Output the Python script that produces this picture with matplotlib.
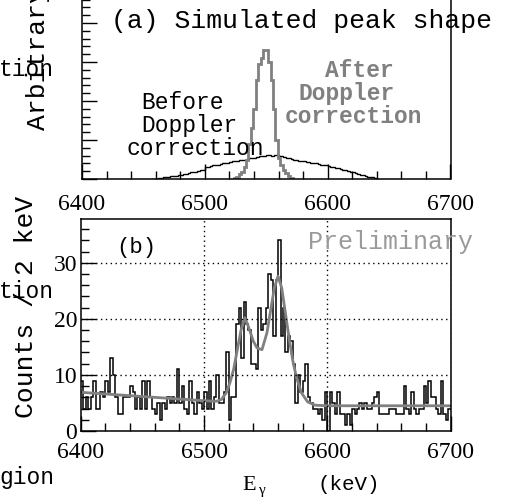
import numpy as np
import matplotlib
matplotlib.use("Agg")
import matplotlib.pyplot as plt
from matplotlib.ticker import MultipleLocator

# ---- data ----
# (a) simulated peak shape, arbitrary units, 2 keV bins
before_start = 6456
before_vals = [0.00, 0.01, 0.01, 0.02, 0.03, 0.04, 0.05, 0.05, 0.07, 0.07,
               0.08, 0.10, 0.11, 0.12, 0.12, 0.15, 0.17, 0.17, 0.19, 0.21,
               0.24, 0.24, 0.32, 0.31, 0.33, 0.35, 0.36, 0.37, 0.38, 0.40,
               0.42, 0.41, 0.44, 0.45, 0.46, 0.46, 0.48, 0.49, 0.50, 0.51,
               0.53, 0.54, 0.55, 0.56, 0.58, 0.59, 0.60, 0.61, 0.62, 0.60,
               0.62, 0.61, 0.59, 0.58, 0.57, 0.55, 0.53, 0.51, 0.50, 0.49,
               0.47, 0.46, 0.45, 0.44, 0.43, 0.42, 0.41, 0.40, 0.38, 0.37,
               0.36, 0.35, 0.33, 0.31, 0.30, 0.28, 0.27, 0.25, 0.24, 0.22,
               0.20, 0.18, 0.17, 0.15, 0.13, 0.11, 0.10, 0.08, 0.06, 0.05,
               0.04, 0.02, 0.01]
after_start = 6523.5
after_vals = [0.03, 0.06, 0.12, 0.19, 0.30, 0.50, 0.90, 1.30, 1.80, 2.55,
              2.95, 3.10, 3.32, 3.32, 3.00, 2.55, 1.80, 1.00, 0.55, 0.35,
              0.23, 0.15, 0.08, 0.03]

# (b) measured spectrum, counts per 2 keV from 6400 to 6700
counts = [9, 4, 6, 4, 6, 9, 4, 4, 7, 6,
          9, 7, 13, 10, 6, 3, 3, 6, 6, 6,
          8, 7, 4, 6, 4, 9, 4, 9, 6, 4,
          3, 5, 2, 5, 4, 6, 5, 6, 5, 11,
          5, 8, 4, 3, 9, 5, 3, 7, 5, 4,
          7, 4, 9, 4, 6, 10, 5, 5, 7, 14,
          2, 6, 6, 19, 22, 13, 23, 19, 18, 12,
          12, 11, 22, 18, 19, 22, 28, 27, 17, 27,
          34, 17, 22, 14, 17, 16, 12, 5, 10, 7,
          9, 12, 6, 5, 4, 4, 3, 4, 2, 7,
          0, 7, 5, 3, 7, 3, 3, 1, 3, 1,
          4, 3, 4, 5, 4, 5, 4, 4, 5, 6,
          7, 3, 3, 3, 3, 4, 4, 4, 3, 3,
          3, 8, 4, 3, 7, 4, 3, 4, 4, 8,
          5, 9, 6, 6, 4, 3, 9, 3, 2, 4]
bin_width = 2

# fitted curve
fit_e = [6400, 6420, 6440, 6460, 6480, 6500, 6510, 6514, 6518, 6521,
         6524, 6527, 6530, 6533, 6536, 6540, 6543, 6547, 6551, 6554,
         6557, 6560, 6563, 6566, 6569, 6572, 6575, 6579, 6584, 6590,
         6600, 6650, 6700]
fit_c = [6.9, 6.6, 6.3, 6.0, 5.7, 5.4, 5.3, 5.6, 6.8, 8.6,
         11.0, 14.5, 18.0, 20.2, 18.6, 16.0, 14.8, 14.5, 17.5, 21.5,
         25.5, 27.6, 25.5, 21.0, 16.5, 12.5, 9.5, 6.8, 5.2, 4.6,
         4.5, 4.5, 4.5]

xticks = [6400, 6500, 6600, 6700]

# ---- figure ----
W, H = 511, 501
mono = "Liberation Mono"
serif = "Liberation Serif"
grey = "#808080"


def fx(x):
    return x / W


def fy(y):
    return 1 - y / H


fig = plt.figure(figsize=(W / 100, H / 100), dpi=100)

ax1 = fig.add_axes([fx(82), fy(179), (450.5 - 82) / W, 212 / H])
ax2 = fig.add_axes([fx(80.7), fy(431), (450.7 - 80.7) / W, 212 / H])

# top panel
e_before = before_start + bin_width * np.arange(len(before_vals) + 1)
e_after = after_start + bin_width * np.arange(len(after_vals) + 1)
ax1.stairs(before_vals, e_before, color="black", lw=1.0)
ax1.stairs(after_vals, e_after, color=grey, lw=2.0)
ax1.set_xlim(6400, 6700)
ax1.set_ylim(0, 212 / 39)
ax1.yaxis.set_major_locator(MultipleLocator(1))
ax1.yaxis.set_minor_locator(MultipleLocator(0.2))
ax1.set_yticklabels([])

# bottom panel
e_counts = 6400 + bin_width * np.arange(len(counts) + 1)
ax2.stairs(counts, e_counts, color="black", lw=1.1, baseline=None)
ax2.plot(fit_e, fit_c, color=grey, lw=2.0)
ax2.set_xlim(6400, 6700)
ax2.set_ylim(0, 37.8)
ax2.yaxis.set_major_locator(MultipleLocator(10))
ax2.yaxis.set_minor_locator(MultipleLocator(2))
for v in [10, 20, 30]:
    ax2.axhline(v, color="black", lw=1.0, ls=(0, (1, 2.5)))
for v in [6500, 6600, 6700]:
    ax2.axvline(v, color="black", lw=1.0, ls=(0, (1, 2.5)))

for ax, pad in [(ax1, 11), (ax2, 8)]:
    ax.xaxis.set_major_locator(MultipleLocator(100))
    ax.xaxis.set_minor_locator(MultipleLocator(20))
    ax.set_xticks(xticks)
    ax.tick_params(which="both", direction="in", top=False, right=False)
    ax.tick_params(which="major", length=11, width=1)
    ax.tick_params(which="minor", length=6, width=1)
    ax.tick_params(axis="x", pad=pad, labelsize=17)
    ax.tick_params(axis="y", pad=2.5, labelsize=17)
    for lab in ax.get_xticklabels() + ax.get_yticklabels():
        lab.set_fontfamily(serif)
    for s in ax.spines.values():
        s.set_linewidth(1.1)

# texts
fig.text(fx(111), fy(28), "(a) Simulated peak shape", family=mono,
         fontsize=19, ha="left", va="baseline")
for t, x, y in [("Before", 141, 109), ("Doppler", 141, 132),
                ("correction", 127, 155)]:
    fig.text(fx(x), fy(y), t, family=mono, fontsize=16.5,
             ha="left", va="baseline")
for t, x, y in [("After", 325, 77), ("Doppler", 298, 100),
                ("correction", 285, 123)]:
    fig.text(fx(x), fy(y), t, family=mono, fontsize=16.5, weight="bold",
             color=grey, ha="left", va="baseline")

fig.text(fx(116), fy(253), "(b)", family=mono, fontsize=16,
         ha="left", va="baseline")
fig.text(fx(308), fy(249), "Preliminary", family=mono, fontsize=18,
         color="#9a9a9a", ha="left", va="baseline")

fig.text(fx(45), fy(130), "Arbitrary", family=mono, fontsize=19,
         rotation=90, rotation_mode="anchor", ha="left", va="baseline")
fig.text(fx(33), fy(418), "Counts / 2 keV", family=mono, fontsize=19,
         rotation=90, rotation_mode="anchor", ha="left", va="baseline")

fig.text(fx(242), fy(490), "E", family=serif, fontsize=16,
         ha="left", va="baseline")
fig.text(fx(259), fy(494), "\u03b3", family=serif, fontsize=11,
         ha="left", va="baseline")
fig.text(fx(317), fy(490), "(keV)", family=mono, fontsize=15,
         ha="left", va="baseline")

# fragments of neighbouring text cut by the frame
fig.text(fx(-1), fy(76), "tion", family=mono, fontsize=16.5,
         ha="left", va="baseline")
fig.text(fx(-1), fy(298), "tion", family=mono, fontsize=16.5,
         ha="left", va="baseline")
fig.text(fx(-1), fy(484), "gion", family=mono, fontsize=16.5,
         ha="left", va="baseline")

fig.savefig("out.png", dpi=100)
